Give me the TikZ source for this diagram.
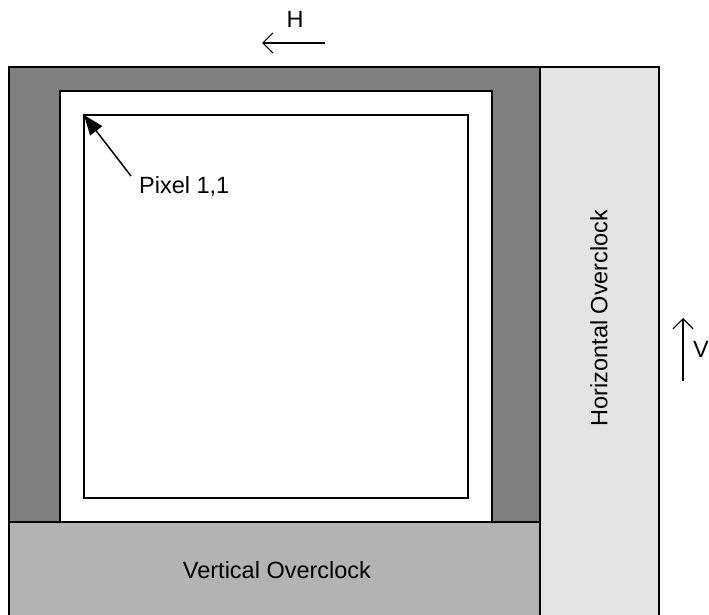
\documentclass[tikz,border=0pt]{standalone}
\usepackage{fontspec}
\setmainfont{Liberation Sans}
\usetikzlibrary{arrows.meta}
\definecolor{framegray}{RGB}{128,128,128}
\definecolor{vgray}{RGB}{179,179,179}
\definecolor{hgray}{RGB}{228,228,228}
\begin{document}
\begin{tikzpicture}[x=1pt,y=-1pt,
  region/.style={draw=black,line width=1.8pt},
  label/.style={font=\fontsize{23.5}{28}\selectfont,inner sep=0pt},
  dirarrow/.style={line width=1.2pt,-{Straight Barb[length=10pt,width=20pt,line width=1.2pt]}}]
\useasboundingbox (0,0) rectangle (709,615);
% dark frame around the imaging area
\draw[region,fill=framegray] (9,67) rectangle (540,522);
% white frame and active pixel area
\draw[region,fill=white,line width=1.5pt] (60,91) rectangle (492,522);
\draw[line width=1.5pt] (84,115) coordinate (p11) rectangle (468,498);
% overclock regions
\draw[region,fill=vgray] (9,522) rectangle (540,616);
\draw[region,fill=hgray] (540,67) rectangle (659,616);
\node[label] (vo) at (277,570) {Vertical Overclock};
\node[label,rotate=90] (ho) at (599,318) {Horizontal Overclock};
% readout directions
\node[label] (h) at (295,19) {H};
\coordinate (hs) at (325,43);
\coordinate (he) at (262,43);
\draw[dirarrow] (hs) -- (he);
\node[label,anchor=west] (v) at (693,349) {V};
\coordinate (vs) at (683,381);
\coordinate (ve) at (683,318);
\draw[dirarrow] (vs) -- (ve);
% first pixel marker
\node[label,anchor=west] (px) at (139,186) {Pixel 1,1};
\coordinate (pa) at (131,176);
\draw[line width=1.5pt,-{Triangle[length=20pt,width=15pt]}] (pa) -- (p11);
\end{tikzpicture}
\end{document}
